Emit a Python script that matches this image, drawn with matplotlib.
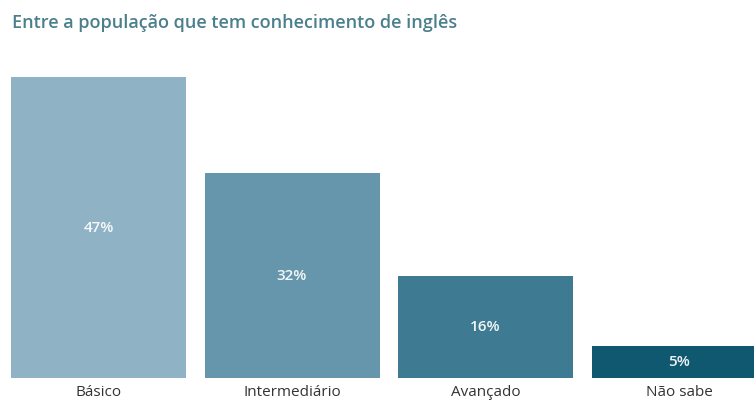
import matplotlib
matplotlib.use("Agg")
import matplotlib.pyplot as plt
import numpy as np

plt.rcParams['font.family'] = ['Open Sans', 'DejaVu Sans']

categories = ['Básico', 'Intermediário', 'Avançado', 'Não sabe']
values = [47, 32, 16, 5]
labels = ['47%', '32%', '16%', '5%']
colors = ['#8fb2c5', '#6596ab', '#3e7b92', '#0f5870']

W, H = 754, 401
fig = plt.figure(figsize=(W / 100, H / 100), dpi=100)
fig.patch.set_facecolor('white')

# axes from pixel y=60 (top) down to y=378 (bar baseline)
bottom_px = H - 378
top_px = H - 60
ax = fig.add_axes([0, bottom_px / H, 1, (top_px - bottom_px) / H])

step = 193.5
x = np.arange(len(categories))
ax.bar(x, values, width=175 / step, color=colors)
ax.set_xlim(-98.5 / step, (W - 98.5) / step)
ax.set_ylim(0, (top_px - bottom_px) / 6.4)

for xi, v, lab in zip(x, values, labels):
    ax.text(xi, v / 2, lab, ha='center', va='center', color='white',
            fontsize=11, fontweight='semibold', alpha=0.92)

ax.set_xticks(x)
ax.set_xticklabels(categories, fontsize=11, color='#333333')
ax.tick_params(axis='x', length=0, pad=5)
ax.set_yticks([])
for s in ax.spines.values():
    s.set_visible(False)

fig.text(12 / W, 1 - 23 / H, 'Entre a população que tem conhecimento de inglês',
         ha='left', va='center', fontsize=13, fontweight='semibold',
         color='#4a7f8c')

fig.savefig('out.png', dpi=100)
